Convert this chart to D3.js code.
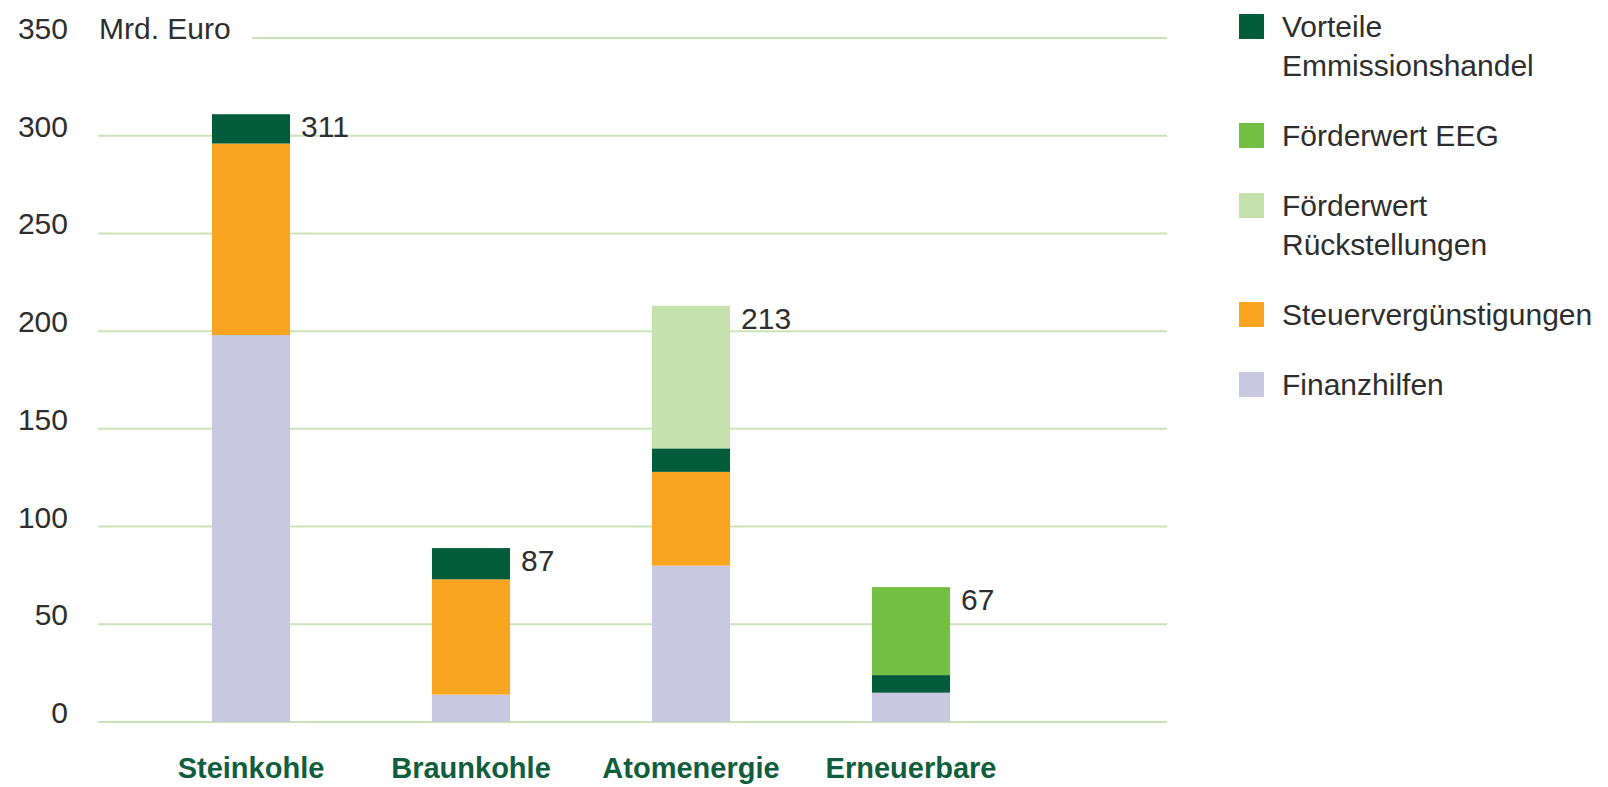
<!DOCTYPE html>
<meta charset="utf-8">
<style>
body { margin: 0; background: #fff; }
svg text { font-family: "Liberation Sans", Arial, sans-serif; fill: #2e2e2e; }
.grid line { stroke: #cbe3b8; stroke-width: 2px; }
.cat { font-weight: bold; fill: #105e3e; }
</style>
<svg width="1608" height="787"></svg>
<script src="https://d3js.org/d3.v7.min.js"></script>
<script>
// data (Mrd. Euro)
var categories = ["Steinkohle", "Braunkohle", "Atomenergie", "Erneuerbare"];
var finanzhilfen = [198, 14, 80, 15];
var steuer = [98, 59, 48, 0];
var vorteile = [15, 16, 12, 9];
var rueckstellungen = [0, 0, 73, 0];
var eeg = [0, 0, 0, 45];
var totals = [311, 87, 213, 67];
var yTicks = [0, 50, 100, 150, 200, 250, 300, 350];

var keys = ["fin", "steuer", "vorteile", "rueck", "eeg"];
var colors = {fin: "#c8c8e0", steuer: "#f9a51f", vorteile: "#035c3b", rueck: "#c5e1ae", eeg: "#72bf44"};
var legendItems = [
  {key: "vorteile", lines: ["Vorteile", "Emmissionshandel"]},
  {key: "eeg", lines: ["Förderwert EEG"]},
  {key: "rueck", lines: ["Förderwert", "Rückstellungen"]},
  {key: "steuer", lines: ["Steuervergünstigungen"]},
  {key: "fin", lines: ["Finanzhilfen"]}
];

var rows = categories.map(function(c, i) {
  return {cat: c, fin: finanzhilfen[i], steuer: steuer[i], vorteile: vorteile[i],
          rueck: rueckstellungen[i], eeg: eeg[i], total: totals[i]};
});

var svg = d3.select("svg");

var x = d3.scaleBand()
    .domain(categories)
    .range([141, 1021])
    .paddingInner(0.645)
    .paddingOuter(0.3225);
var y = d3.scaleLinear()
    .domain([0, 350])
    .range([722, 38]);

// gridlines + tick labels
var grid = svg.append("g").attr("class", "grid");
grid.selectAll("line")
  .data(yTicks)
  .enter().append("line")
    .attr("x1", function(d) { return d == 350 ? 252 : 98; })
    .attr("x2", 1167)
    .attr("y1", function(d) { return y(d); })
    .attr("y2", function(d) { return y(d); });
grid.selectAll("text")
  .data(yTicks)
  .enter().append("text")
    .attr("x", 68)
    .attr("y", function(d) { return y(d) + 1; })
    .attr("text-anchor", "end")
    .style("font-size", "30px")
    .text(function(d) { return d; });

svg.append("text")
    .attr("x", 99)
    .attr("y", y(350) + 1)
    .style("font-size", "30px")
    .text("Mrd. Euro");

// stacked bars
var series = d3.stack().keys(keys)(rows);
svg.append("g")
  .selectAll("g")
  .data(series)
  .enter().append("g")
    .attr("fill", function(d) { return colors[d.key]; })
  .selectAll("rect")
  .data(function(d) { return d.filter(function(p) { return p[1] > p[0]; }); })
  .enter().append("rect")
    .attr("x", function(d) { return x(d.data.cat); })
    .attr("width", x.bandwidth())
    .attr("y", function(d) { return y(d[1]); })
    .attr("height", function(d) { return y(d[0]) - y(d[1]); });

// totals next to bars
var tops = series[series.length - 1];
svg.append("g")
  .selectAll("text")
  .data(tops)
  .enter().append("text")
    .attr("x", function(d) { return x(d.data.cat) + x.bandwidth() + 11; })
    .attr("y", function(d) { return y(d[1]) + 23; })
    .style("font-size", "30px")
    .text(function(d) { return d.data.total; });

// category labels
svg.append("g")
  .selectAll("text")
  .data(categories)
  .enter().append("text")
    .attr("class", "cat")
    .attr("x", function(d) { return x(d) + x.bandwidth() / 2; })
    .attr("y", 778)
    .attr("text-anchor", "middle")
    .style("font-size", "29px")
    .text(function(d) { return d; });

// legend
var ly = 14;
legendItems.forEach(function(item) {
  var g = svg.append("g").attr("transform", "translate(1239," + ly + ")");
  g.append("rect")
      .attr("width", 25)
      .attr("height", 25)
      .attr("fill", colors[item.key]);
  g.append("text")
      .style("font-size", "30px")
    .selectAll("tspan")
    .data(item.lines)
    .enter().append("tspan")
      .attr("x", 43)
      .attr("y", function(d, i) { return 23 + i * 39; })
      .text(function(d) { return d; });
  ly += item.lines.length * 39 + 31;
});
</script>
